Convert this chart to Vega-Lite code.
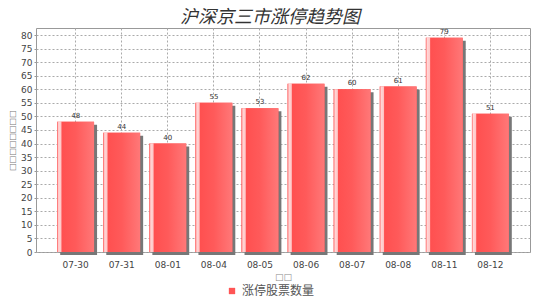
{
  "$schema": "https://vega.github.io/schema/vega-lite/v6.json",
  "width": 494,
  "height": 224,
  "autosize": {"type": "none"},
  "padding": {"left": 36, "top": 28, "right": 10, "bottom": 52},
  "background": "white",
  "title": {
    "text": "沪深京三市涨停趋势图",
    "font": "Noto Sans CJK SC",
    "fontSize": 18,
    "fontStyle": "italic",
    "fontWeight": "normal",
    "color": "#333333",
    "anchor": "middle",
    "dx": -13,
    "offset": 1
  },
  "config": {
    "view": {"stroke": "#999999", "strokeWidth": 1},
    "axis": {
      "labelFont": "DejaVu Sans",
      "labelFontSize": 9,
      "labelColor": "#444444",
      "gridColor": "#aaaaaa",
      "gridDash": [2, 2],
      "gridWidth": 1,
      "domain": false,
      "tickColor": "#999999"
    },
    "legend": {
      "labelFont": "Noto Sans CJK SC",
      "labelFontSize": 12,
      "labelColor": "#555555",
      "symbolType": "square",
      "symbolSize": 40
    }
  },
  "data": {
    "values": [
      {"date": "07-30", "count": 48, "series": "涨停股票数量"},
      {"date": "07-31", "count": 44, "series": "涨停股票数量"},
      {"date": "08-01", "count": 40, "series": "涨停股票数量"},
      {"date": "08-04", "count": 55, "series": "涨停股票数量"},
      {"date": "08-05", "count": 53, "series": "涨停股票数量"},
      {"date": "08-06", "count": 62, "series": "涨停股票数量"},
      {"date": "08-07", "count": 60, "series": "涨停股票数量"},
      {"date": "08-08", "count": 61, "series": "涨停股票数量"},
      {"date": "08-11", "count": 79, "series": "涨停股票数量"},
      {"date": "08-12", "count": 51, "series": "涨停股票数量"}
    ]
  },
  "encoding": {
    "x": {
      "field": "date",
      "type": "nominal",
      "sort": null,
      "scale": {"paddingInner": 0.2, "paddingOuter": 0.46},
      "axis": {
        "title": "□□",
        "titleFont": "DejaVu Sans",
        "titleFontSize": 9,
        "titleFontWeight": "normal",
        "titleColor": "#888888",
        "titlePadding": 3,
        "labelAngle": 0,
        "labelPadding": 8,
        "ticks": false,
        "grid": true,
        "bandPosition": 0.5
      }
    },
    "y": {
      "field": "count",
      "type": "quantitative",
      "scale": {"domain": [0, 82.6], "nice": false},
      "axis": {
        "title": "□□□□□□□□",
        "titleFont": "DejaVu Sans",
        "titleFontSize": 8,
        "titleFontWeight": "normal",
        "titleColor": "#777777",
        "titlePadding": 4,
        "values": [0, 5, 10, 15, 20, 25, 30, 35, 40, 45, 50, 55, 60, 65, 70, 75, 80],
        "tickSize": 2,
        "labelPadding": 2,
        "grid": true
      }
    }
  },
  "layer": [
    {
      "mark": {"type": "bar", "color": "#777777", "xOffset": 3, "yOffset": 3, "y2Offset": 0}
    },
    {
      "mark": {"type": "bar"},
      "encoding": {
        "color": {
          "field": "series",
          "type": "nominal",
          "scale": {"range": ["#ff5555"]},
          "legend": {"title": null, "orient": "none", "direction": "horizontal", "legendX": 190, "legendY": 257}
        }
      }
    },
    {
      "mark": {
        "type": "bar",
        "color": {
          "gradient": "linear",
          "x1": 0, "x2": 1, "y1": 0, "y2": 0,
          "stops": [
            {"offset": 0, "color": "#ff6a6a"},
            {"offset": 0.04, "color": "#ffd6d6"},
            {"offset": 0.1, "color": "#ffc8c8"},
            {"offset": 0.13, "color": "#ff5050"},
            {"offset": 0.5, "color": "#ff5a5a"},
            {"offset": 1, "color": "#ff7878"}
          ]
        }
      }
    },
    {
      "mark": {"type": "text", "font": "DejaVu Sans", "fontSize": 7, "color": "#333333", "baseline": "bottom", "dy": -3},
      "encoding": {"text": {"field": "count", "type": "quantitative"}}
    }
  ]
}
